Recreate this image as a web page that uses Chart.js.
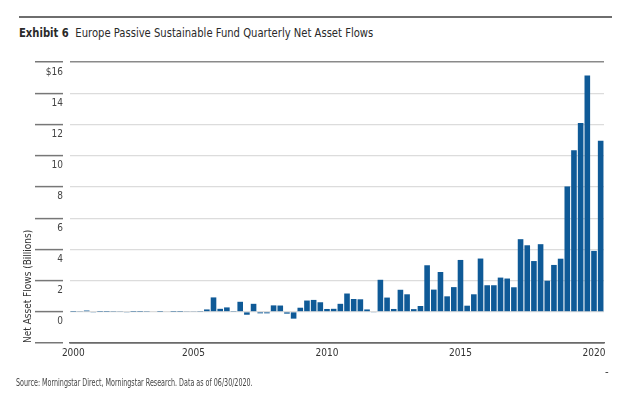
<!DOCTYPE html>
<html>
<head>
<meta charset="utf-8">
<script src="https://cdn.jsdelivr.net/npm/chart.js@4.4.0/dist/chart.umd.min.js"></script>
<style>
html,body{margin:0;padding:0;background:#fff;}
#wrap{position:relative;width:640px;height:397px;overflow:hidden;background:#fff;}
#c{position:absolute;left:0;top:0;}
.rule{position:absolute;left:19px;top:16px;width:593px;height:0;border-top:2px solid #6e6e6e;}
.title{position:absolute;left:19px;top:25px;font-family:'Liberation Sans Narrow','DejaVu Sans Condensed','Roboto',sans-serif;font-size:13px;color:#2a2a2a;white-space:nowrap;transform:scaleX(0.857);transform-origin:0 0;}
.title b{font-weight:bold;margin-right:4px;}
.src{position:absolute;left:16px;top:377px;font-family:'Liberation Sans Narrow','DejaVu Sans Condensed','Roboto',sans-serif;font-size:10px;color:#444;white-space:nowrap;transform:scaleX(0.71);transform-origin:0 0;}
.dash{position:absolute;left:605px;top:365px;font-family:'Liberation Sans',sans-serif;font-size:11px;color:#333;}
</style>
</head>
<body>
<div id="wrap">
  <div class="rule"></div>
  <div class="title"><b>Exhibit 6</b> Europe Passive Sustainable Fund Quarterly Net Asset Flows</div>
  <canvas id="c" width="640" height="397"></canvas>
  <div class="src">Source: Morningstar Direct, Morningstar Research. Data as of 06/30/2020.</div>
  <div class="dash">-</div>
</div>
<script>
// Categories: quarters from 2000 Q3 to 2020 Q2
const quarters = [
  '2000 Q3','2000 Q4',
  '2001 Q1','2001 Q2','2001 Q3','2001 Q4',
  '2002 Q1','2002 Q2','2002 Q3','2002 Q4',
  '2003 Q1','2003 Q2','2003 Q3','2003 Q4',
  '2004 Q1','2004 Q2','2004 Q3','2004 Q4',
  '2005 Q1','2005 Q2','2005 Q3','2005 Q4',
  '2006 Q1','2006 Q2','2006 Q3','2006 Q4',
  '2007 Q1','2007 Q2','2007 Q3','2007 Q4',
  '2008 Q1','2008 Q2','2008 Q3','2008 Q4',
  '2009 Q1','2009 Q2','2009 Q3','2009 Q4',
  '2010 Q1','2010 Q2','2010 Q3','2010 Q4',
  '2011 Q1','2011 Q2','2011 Q3','2011 Q4',
  '2012 Q1','2012 Q2','2012 Q3','2012 Q4',
  '2013 Q1','2013 Q2','2013 Q3','2013 Q4',
  '2014 Q1','2014 Q2','2014 Q3','2014 Q4',
  '2015 Q1','2015 Q2','2015 Q3','2015 Q4',
  '2016 Q1','2016 Q2','2016 Q3','2016 Q4',
  '2017 Q1','2017 Q2','2017 Q3','2017 Q4',
  '2018 Q1','2018 Q2','2018 Q3','2018 Q4',
  '2019 Q1','2019 Q2','2019 Q3','2019 Q4',
  '2020 Q1','2020 Q2'
];

// Net asset flows, billions
const netFlows = [
  0.01, 0.05,
  0.08, -0.05, 0.01, 0.01,
  0.02, 0.05, -0.05, 0.01,
  0.01, 0.02, 0.04, 0.01,
  0.04, 0.01, 0.01, 0.03,
  0.03, 0.02, 0.15, 0.92,
  0.19, 0.28, 0.02, 0.64,
  -0.19, 0.51, -0.10, -0.10,
  0.41, 0.40, -0.12, -0.44,
  0.26, 0.72, 0.76, 0.61,
  0.18, 0.19, 0.51, 1.17,
  0.82, 0.80, 0.15, -0.03,
  2.05, 0.91, 0.18, 1.41,
  1.12, 0.17, 0.37, 2.98,
  1.42, 2.55, 0.99, 1.58,
  3.32, 0.39, 1.12, 3.41,
  1.70, 1.70, 2.19, 2.13,
  1.57, 4.65, 4.26, 3.25,
  4.33, 1.99, 3.00, 3.40,
  8.03, 10.34, 12.10, 15.14,
  3.90, 10.96
];

// Axis tick labels
const yearTicks = ['2000', '2005', '2010', '2015', '2020'];
const yMin = -2, yMax = 16, yStep = 2;
const yAxisTitle = 'Net Asset Flows (Billions)';

const FONT = "'Liberation Sans Narrow','DejaVu Sans Condensed','Roboto',sans-serif";

function xTickLabel(index) {
  const q = quarters[index];
  const year = q.slice(0, 4);
  if (!yearTicks.includes(year)) return '';
  const firstIdx = quarters.findIndex(s => s.startsWith(year));
  return firstIdx === index ? year : '';
}

new Chart(document.getElementById('c'), {
  type: 'bar',
  data: {
    labels: quarters,
    datasets: [{
      label: 'Net Asset Flows',
      data: netFlows,
      backgroundColor: '#0f5a97',
      borderWidth: 0,
      categoryPercentage: 1.0,
      barPercentage: 0.84
    }]
  },
  options: {
    responsive: false,
    devicePixelRatio: 1,
    animation: false,
    layout: { padding: { left: 17, right: 36, top: 62, bottom: 34 } },
    plugins: {
      legend: { display: false },
      tooltip: { enabled: false },
      title: { display: false }
    },
    scales: {
      x: {
        type: 'category',
        offset: true,
        grid: { display: false, drawTicks: false },
        border: { display: true, color: '#6a6a6a', width: 1.5 },
        ticks: {
          autoSkip: false,
          maxRotation: 0,
          minRotation: 0,
          padding: 4,
          color: '#333',
          font: { family: FONT, size: 10 },
          callback: function (value, index) { return xTickLabel(index); }
        },
        afterFit: function (scale) { scale.height = 20; }
      },
      y: {
        min: yMin,
        max: yMax,
        border: { display: false },
        grid: {
          color: function (ctx) {
            const v = ctx.tick ? ctx.tick.value : 0;
            if (v === yMax) return '#8a8a8a';
            if (v === yMin) return '#6a6a6a';
            return '#dcdcdc';
          },
          lineWidth: function (ctx) {
            const v = ctx.tick ? ctx.tick.value : 0;
            return (v === yMax || v === yMin) ? 1.5 : 1.2;
          },
          drawTicks: true,
          tickLength: 35,
          tickColor: '#777',
          tickWidth: 1.5,
          tickBorderDash: [28, 7]
        },
        ticks: {
          stepSize: yStep,
          padding: -28,
          labelOffset: 10,
          color: '#444',
          font: { family: FONT, size: 10 },
          callback: function (v) {
            if (v === yMin) return '';
            if (v === yMax) return '$' + v;
            return String(v);
          }
        },
        title: {
          display: true,
          text: yAxisTitle,
          align: 'start',
          color: '#333',
          font: { family: FONT, size: 10 },
          padding: { top: 5, bottom: 0 }
        },
        afterFit: function (scale) { scale.width = 53; }
      }
    }
  }
});
</script>
</body>
</html>
